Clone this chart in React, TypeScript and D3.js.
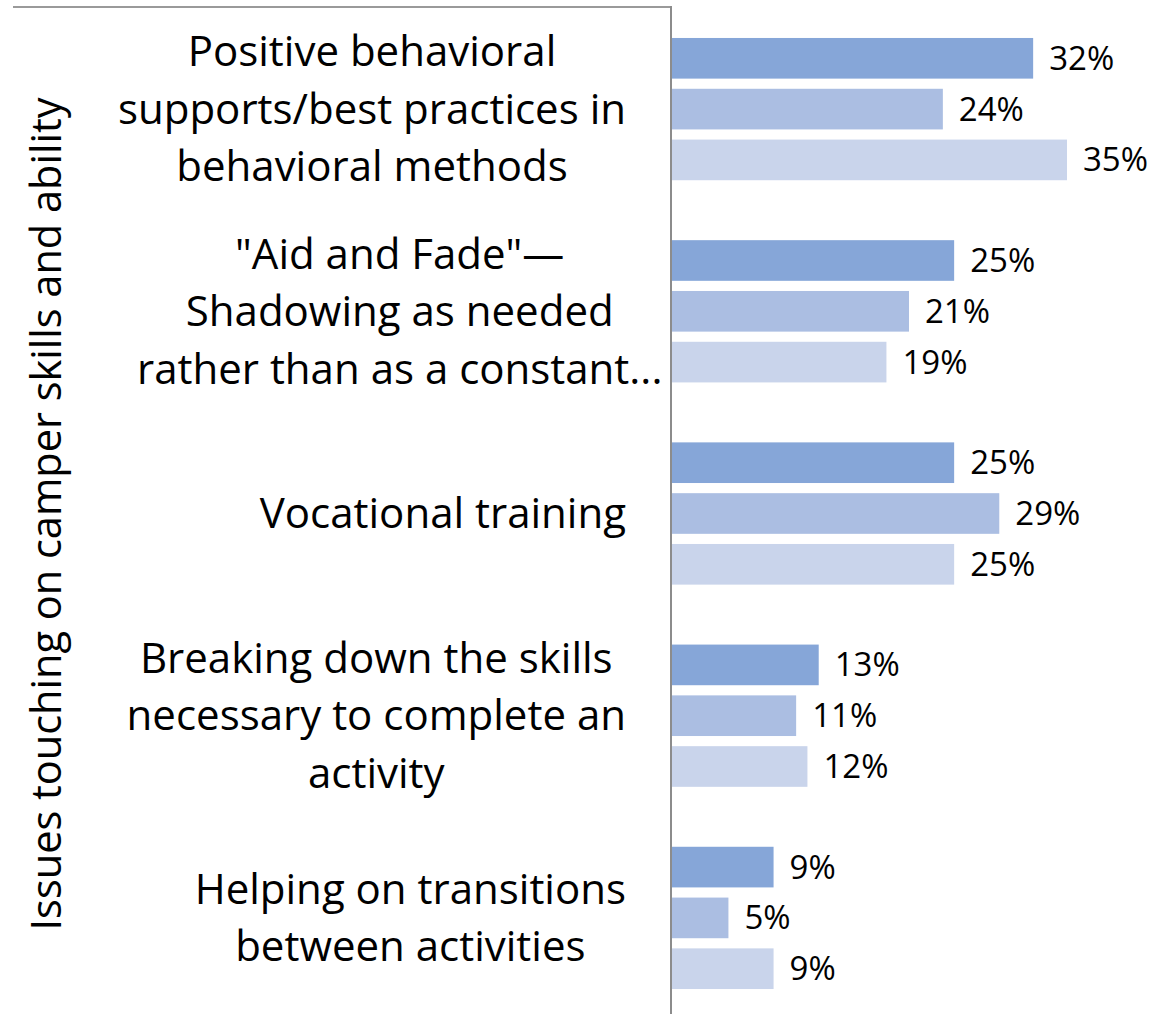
import React, { useEffect, useRef } from 'react';
import * as d3 from 'd3';

const categories = [
  ['Positive behavioral', 'supports/best practices in', 'behavioral methods'],
  ['"Aid and Fade"\u2014', 'Shadowing as needed', 'rather than as a constant...'],
  ['Vocational training'],
  ['Breaking down the skills', 'necessary to complete an', 'activity'],
  ['Helping on transitions', 'between activities'],
];
const seriesNames = ['s1', 's2', 's3'];
const series1 = [32, 25, 25, 13, 9];
const series2 = [24, 21, 29, 11, 5];
const series3 = [35, 19, 25, 12, 9];
const colors = ['#86a6d8', '#abbee2', '#c9d4eb'];
const axisTitle = 'Issues touching on camper skills and ability';

const App = () => {
  const ref = useRef<SVGSVGElement | null>(null);

  useEffect(() => {
    const width = 1164;
    const height = 1014;
    const font = '"Open Sans", sans-serif';
    const svg = d3.select(ref.current);
    svg.selectAll('*').remove();
    svg.attr('width', width).attr('height', height);

    const values = [series1, series2, series3];
    const keys = categories.map((c, i) => 'c' + i);

    const x = d3.scaleLinear().domain([0, 35]).range([672, 1067]);
    const y0 = d3.scaleBand().domain(keys).range([8, 1019]);
    const y1 = d3
      .scaleBand()
      .domain(seriesNames)
      .range([0, y0.bandwidth()])
      .paddingInner(0.2)
      .paddingOuter(0.59);

    // frame lines
    svg.append('line')
      .attr('x1', 13).attr('x2', 672).attr('y1', 7).attr('y2', 7)
      .attr('stroke', '#9a9a9a').attr('stroke-width', 2);
    svg.append('line')
      .attr('x1', 671).attr('x2', 671).attr('y1', 6).attr('y2', height)
      .attr('stroke', '#8c8c8c').attr('stroke-width', 2);

    // bars
    keys.forEach((k, ci) => {
      const g = svg.append('g').attr('transform', `translate(0,${y0(k)})`);
      seriesNames.forEach((s, si) => {
        const v = values[si][ci];
        g.append('rect')
          .attr('x', x(0))
          .attr('y', y1(s)!)
          .attr('width', x(v) - x(0))
          .attr('height', y1.bandwidth())
          .attr('fill', colors[si]);
        g.append('text')
          .attr('x', x(v) + 16)
          .attr('y', y1(s)! + y1.bandwidth() / 2)
          .attr('dy', '0.35em')
          .style('font-family', font)
          .style('font-size', '33px')
          .attr('fill', '#000')
          .text(v + '%');
      });
    });

    // category labels: wrapped block centred, right edge near the axis
    // (truncated labels start at the left edge of the label area instead)
    const lineH = 57.5;
    keys.forEach((k, ci) => {
      const lines = categories[ci];
      const cy = y0(k)! + y1('s2')! + y1.bandwidth() / 2;
      const t = svg.append('text')
        .style('font-family', font)
        .style('font-size', '42px')
        .attr('fill', '#000')
        .attr('text-anchor', 'middle');
      lines.forEach((ln, li) => {
        t.append('tspan')
          .attr('x', 0)
          .attr('y', cy + (li - (lines.length - 1) / 2) * lineH)
          .attr('dy', '0.35em')
          .text(ln);
      });
      let w = 0;
      t.selectAll<SVGTSpanElement, unknown>('tspan').each(function () {
        w = Math.max(w, this.getComputedTextLength());
      });
      const truncated = lines[lines.length - 1].endsWith('...');
      const left = truncated ? 137 : 626 - w;
      t.selectAll('tspan').attr('x', left + w / 2);
    });

    // axis title
    svg.append('text')
      .attr('transform', 'translate(46,514) rotate(-90)')
      .attr('text-anchor', 'middle')
      .attr('dy', '0.35em')
      .style('font-family', font)
      .style('font-size', '41.5px')
      .attr('fill', '#000')
      .text(axisTitle);
  }, []);

  return (
    <svg ref={ref} style={{ position: 'absolute', left: 0, top: 0, background: '#fff' }} />
  );
};

export default App;
